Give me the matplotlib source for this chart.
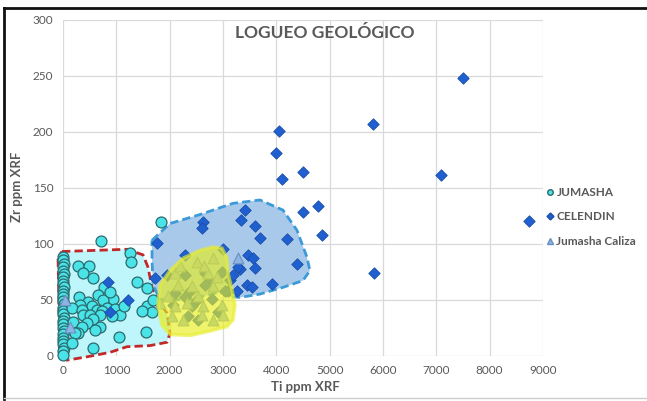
import matplotlib.pyplot as plt
from matplotlib.patches import Polygon
from matplotlib.lines import Line2D

# JUMASHA (circles)
jum_x = [0, 0, 10, 0, 0, 15, 0, 0, 0, 20, 0, 0, 0, 0, 10, 0, 0, 0, 25, 0,
         0, 0, 15, 0, 0, 0, 0, 10, 0, 0,
         1838, 713, 1256, 1275, 281, 488, 375, 563, 769, 656, 300, 938, 469, 750,
         319, 544, 169, 825, 975, 638, 731, 356, 1069, 694, 375, 506, 919, 563,
         188, 450, 356, 694, 600, 281, 225, 1050, 169, 563, 1388, 1575, 1575,
         1669, 1556, 1480, 1690, 1150, 880]
jum_y = [88, 85, 82, 79, 76, 73, 70, 67, 64, 61, 58, 55, 52, 49, 46, 43, 40, 37, 34, 31,
         28, 25, 22, 19, 16, 13, 10, 7, 4, 1,
         119, 102, 92, 84, 80, 80, 74, 69, 61, 54, 52, 51, 48, 50,
         45, 44, 43, 43, 42, 41, 40, 41, 36, 36, 36, 36, 35, 33,
         30, 29, 26, 26, 23, 20, 20, 17, 11, 7, 66, 60, 44,
         39, 21, 40, 50, 44, 57]

# CELENDIN (diamonds)
cel_x = [7500, 5813, 7088, 4050, 3994, 4106, 4500, 8738, 5831,
         3413, 3338, 3600, 3694, 2625, 2606, 1763, 4200, 4388, 4500, 4781, 4856,
         3919, 2994, 3469, 3563, 3600, 3319, 3131, 3188, 3450, 3544, 3094, 3263,
         3281, 2981, 1950, 1725, 1219, 850, 881, 2288, 3038,
         2288, 2663, 2756, 2381, 2100, 2288, 2513, 2794, 2069, 2419, 2350, 2538,
         2913, 2663]
cel_y = [248, 207, 161, 201, 181, 158, 164, 120, 74,
         130, 121, 116, 105, 119, 114, 101, 104, 82, 128, 134, 108,
         64, 95, 90, 87, 78, 77, 68, 72, 63, 61, 58, 58,
         79, 75, 72, 69, 50, 66, 39, 90, 58,
         72, 74, 67, 58, 56, 52, 50, 51, 45, 44, 35, 32,
         39, 63]

# Jumasha Caliza (triangles)
cal_x = [2506, 2819, 2100, 2725, 2162, 2413, 2819, 1975, 2538, 2100, 2631, 2975,
         2038, 2256, 2600, 2819, 3006, 2319, 2881, 38, 131, 1819, 3281, 2200, 2650]
cal_y = [84, 87, 74, 74, 63, 62, 62, 53, 53, 44, 44, 45,
         35, 32, 36, 32, 36, 47, 70, 50, 26, 47, 87, 80, 80]

# hand-drawn zones (Ti, Zr)
zone_jum = [(-19, 93), (1200, 95), (1500, 90), (1594, 79), (1669, 61), (1819, 47),
            (1950, 38), (2006, 20), (1950, 12), (1631, 9), (1200, 8), (881, 3),
            (450, -1), (75, -4), (-56, -1), (-94, 88)]
zone_cel = [(1669, 103), (2006, 118), (2569, 126), (3188, 136), (3694, 139),
            (4125, 130), (4388, 112), (4575, 88), (4631, 76), (4500, 67),
            (4125, 61), (3694, 55), (3319, 52), (3094, 53), (2944, 57), (2381, 50),
            (1819, 50), (1688, 63), (1669, 85)]
zone_cal = [(2813, 97), (2981, 96), (3075, 87), (3094, 74), (3169, 59), (3225, 45),
            (3188, 32), (3075, 26), (2756, 22), (2381, 18), (2006, 19), (1856, 27),
            (1781, 45), (1819, 63), (2006, 76), (2250, 87), (2569, 94)]

x_ticks = list(range(0, 10000, 1000))
y_ticks = list(range(0, 350, 50))

plt.rcParams['font.family'] = ['Lato', 'DejaVu Sans']
grey = '#595959'

fig = plt.figure(figsize=(6.47, 4.01), dpi=100)
ax = fig.add_axes([0.0974, 0.113, 0.7416, 0.838])

ax.add_patch(Polygon(zone_jum, closed=True, facecolor='#bff6fb', edgecolor='#c0282a',
                     linestyle=(0, (3, 1.5)), lw=2, zorder=1, clip_on=False))
ax.add_patch(Polygon(zone_cel, closed=True, facecolor='#a9c9ea', edgecolor='#3d9ad8',
                     linestyle=(0, (3, 1.5)), lw=2, zorder=1, clip_on=False))

ax.scatter(jum_x, jum_y, marker='o', s=62, facecolor='#49e3e8', edgecolor='#2b6b6e',
           lw=0.9, zorder=3, clip_on=False)
ax.scatter(cel_x, cel_y, marker='D', s=34, facecolor='#1f5fcf', edgecolor='#1a4ea8',
           lw=0.6, zorder=3)
ax.scatter(cal_x, cal_y, marker='^', s=60, facecolor='#8eb4e3', edgecolor='#6b8fbf',
           lw=0.8, zorder=3, clip_on=False)

ax.add_patch(Polygon(zone_cal, closed=True, facecolor='#e8ee1e', edgecolor='#e8ee30',
                     lw=2.5, alpha=0.65, zorder=4))

ax.set_xlim(0, 9000)
ax.set_ylim(0, 300)
ax.set_xticks(x_ticks)
ax.set_yticks(y_ticks)
ax.grid(True, color='#d9d9d9', lw=0.9, zorder=0)
ax.set_axisbelow(True)
for s in ax.spines.values():
    s.set_visible(False)
ax.tick_params(length=0, colors=grey, labelsize=8.5, pad=7)

ax.text(0.546, 0.96, 'LOGUEO GEOLÓGICO', transform=ax.transAxes, ha='center',
        va='center', fontsize=12.5, fontweight='bold', color=grey)
fig.text(305 / 647, 1 - 387 / 401, 'Ti ppm XRF', ha='center', va='center',
         fontsize=9.5, fontweight='bold', color=grey)
fig.text(17 / 647, 1 - 187 / 401, 'Zr ppm XRF', ha='center', va='center',
         rotation=90, fontsize=9.5, fontweight='bold', color=grey)

handles = [
    Line2D([], [], ls='', marker='o', ms=4, mfc='#49e3e8', mec='#2b6b6e'),
    Line2D([], [], ls='', marker='D', ms=3.5, mfc='#1f5fcf', mec='#1a4ea8'),
    Line2D([], [], ls='', marker='^', ms=4, mfc='#8eb4e3', mec='#6b8fbf'),
]
fig.legend(handles, ['JUMASHA', 'CELENDIN', 'Jumasha Caliza'], loc='upper left',
           bbox_to_anchor=(541 / 647, 1 - 181 / 401), frameon=False,
           fontsize=8.5, labelcolor=grey, handlelength=0.5, handletextpad=0.3,
           labelspacing=1.15, borderpad=0)
for t in fig.legends[0].get_texts():
    t.set_fontweight('bold')

# outer frame
fig.add_artist(Line2D([4 / 647, 1], [1 - 8 / 401] * 2, color='#111111', lw=2))
fig.add_artist(Line2D([4 / 647] * 2, [2 / 401, 1 - 8 / 401], color='#111111', lw=2))
fig.add_artist(Line2D([4 / 647, 1], [3 / 401] * 2, color='#cccccc', lw=1))

fig.savefig('out.png', dpi=100)
